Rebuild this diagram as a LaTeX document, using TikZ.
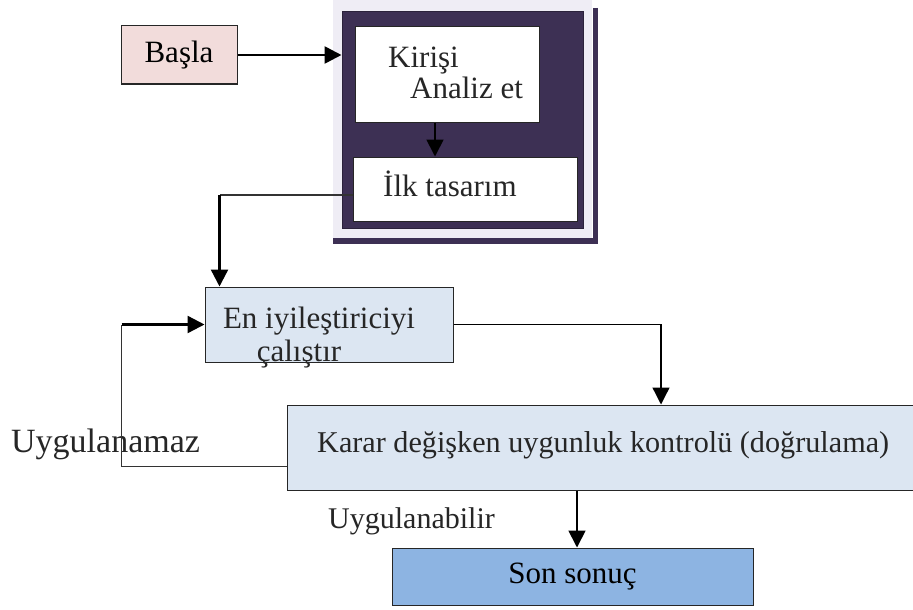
\documentclass[tikz,border=0pt]{standalone}
\usepackage{fontspec}
\setmainfont{Liberation Serif}
\usetikzlibrary{arrows.meta}
\definecolor{pinkfill}{HTML}{F2DCDB}
\definecolor{lightblue}{HTML}{DCE6F2}
\definecolor{midblue}{HTML}{8DB4E2}
\definecolor{darkpurple}{HTML}{3D3054}
\definecolor{lavender}{HTML}{EFEDF5}
\tikzset{
  box/.style={draw=black!85, line width=1pt, rectangle, inner sep=0pt},
  txt/.style={inner sep=0pt, anchor=base west, font=\fontsize{31}{37}\selectfont, text=black!85},
  conn/.style={draw=black, line width=1.6pt, -{Triangle[length=17pt,width=17pt]}},
  thin/.style={draw=black!80, line width=1.1pt}
}
\begin{document}
\begin{tikzpicture}[x=1pt,y=-1pt]
\clip (0,0) rectangle (913,610);
\fill[white] (0,0) rectangle (913,610);
% frame around first stage
\fill[lavender] (333,0) rectangle (592,238);
\node[box, draw=darkpurple!70!black, fill=darkpurple, minimum width=241pt, minimum height=216pt] (frame) at (462.5,120) {};
\draw[darkpurple, line width=5pt] (595,8) -- (595,244);
\draw[darkpurple, line width=6pt] (333,241) -- (597,241);
% boxes
\node[box, fill=pinkfill, minimum width=116pt, minimum height=58pt, font=\fontsize{31}{37}\selectfont] (basla) at (179,55) {Başla};
\node[box, fill=white, minimum width=184pt, minimum height=95pt] (kirisi) at (447,74.5) {};
\node[box, fill=white, minimum width=224pt, minimum height=64pt] (ilk) at (465,189) {};
\node[box, fill=lightblue, minimum width=248pt, minimum height=75pt] (en) at (329,324.5) {};
\node[box, fill=lightblue, minimum width=628pt, minimum height=85pt] (karar) at (601,447.5) {};
\node[box, fill=midblue, minimum width=361pt, minimum height=57pt, font=\fontsize{31}{37}\selectfont] (son) at (572.5,576.5) {Son sonuç};
% texts
\node[txt] (t1) at (388,68) {Kirişi};
\node[txt] (t2) at (410,99) {Analiz et};
\node[txt] (t3) at (383,196) {İlk tasarım};
\node[txt, anchor=base] (t4) at (319,328) {En iyileştiriciyi};
\node[txt, anchor=base] (t5) at (299,361) {çalıştır};
\node[txt, font=\fontsize{30.2}{36}\selectfont] (t6) at (317,452) {Karar değişken uygunluk kontrolü (doğrulama)};
\node[txt, font=\fontsize{34}{40}\selectfont] (t7) at (11,452) {Uygulanamaz};
\node[txt, font=\fontsize{30}{36}\selectfont] (t8) at (328,528) {Uygulanabilir};
% connectors
\draw[conn, line width=2.6pt] (basla.east) -- (basla.east -| frame.west);
\draw[conn, line width=1.8pt] ([xshift=-12pt]kirisi.south) -- ([xshift=-30pt]ilk.north);
\draw[thin] ([yshift=-6pt]ilk.west) -- ++(-133pt,0) coordinate (bend1);
\draw[conn, line width=2.4pt] (bend1) -- (bend1 |- en.north);
\draw[thin] ([yshift=-19pt]karar.west) -- ++(-165pt,0) coordinate (bend2) -- (bend2 |- en.west);
\draw[conn, line width=2.4pt] (bend2 |- en.west) -- (en.west);
\draw[conn, line width=1.3pt] (en.east) -| ([xshift=60pt]karar.north);
\draw[conn, line width=1.8pt] ([xshift=4.5pt]son.north |- karar.south) -- ([xshift=4.5pt]son.north);
\end{tikzpicture}
\end{document}
